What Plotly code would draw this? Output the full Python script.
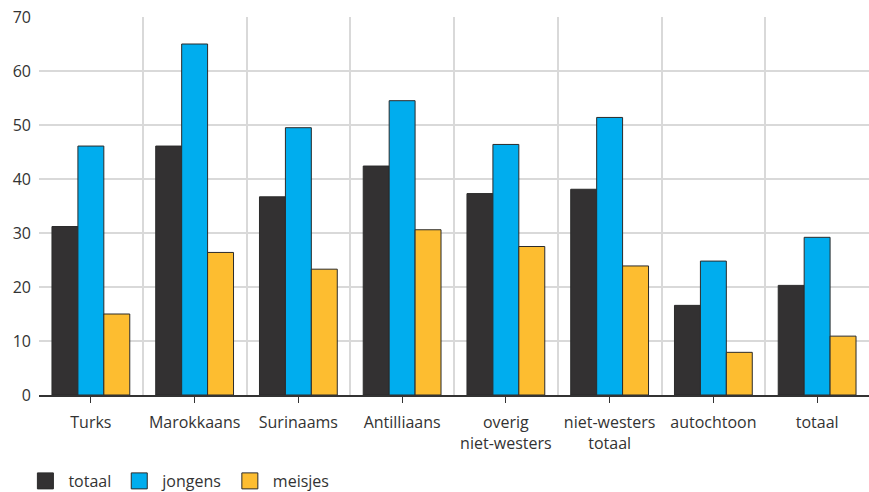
import plotly.graph_objects as go

categories = ["Turks", "Marokkaans", "Surinaams", "Antilliaans",
              "overig<br>niet-westers", "niet-westers<br>totaal", "autochtoon", "totaal"]
totaal = [31.2, 46.1, 36.7, 42.4, 37.3, 38.1, 16.6, 20.3]
jongens = [46.1, 65.0, 49.5, 54.5, 46.4, 51.4, 24.8, 29.2]
meisjes = [15.0, 26.4, 23.3, 30.6, 27.5, 23.9, 7.9, 10.9]
y_ticks = [0, 10, 20, 30, 40, 50, 60, 70]

x = list(range(len(categories)))
FONT = "Open Sans"
TXT = "#333333"
series = [("totaal", totaal, "#333132"), ("jongens", jongens, "#00ADEE"), ("meisjes", meisjes, "#FDBD30")]

fig = go.Figure()
for name, vals, col in series:
    fig.add_trace(go.Bar(x=x, y=vals, name=name, legendgroup=name, showlegend=False,
                         marker=dict(color=col, line=dict(color="#2b2b2b", width=1))))
for name, vals, col in series:
    fig.add_trace(go.Scatter(x=[None], y=[None], mode="markers", name=name, legendgroup=name,
                             marker=dict(symbol="square", size=16, color=col,
                                         line=dict(color="#2b2b2b", width=1))))

fig.update_layout(
    width=869, height=500,
    margin=dict(l=39, r=0, t=17, b=105, autoexpand=False),
    plot_bgcolor="white", paper_bgcolor="white",
    barmode="group", bargap=0.25, bargroupgap=0,
    font=dict(family=FONT, size=16, color=TXT),
    showlegend=True,
    legend=dict(orientation="h", x=-0.02, xanchor="left", y=-0.1825, yanchor="top",
                font=dict(family=FONT, size=16, color=TXT), itemwidth=36, traceorder="normal"),
)
fig.update_xaxes(
    range=[-0.5, len(categories) - 0.5],
    tickmode="array", tickvals=x, ticktext=categories,
    showgrid=False, ticks="outside", ticklen=6, tickcolor="#333333", tickwidth=1,
    showline=True, linecolor="#333333", linewidth=1.5,
    minor=dict(tickmode="array", tickvals=[i - 0.5 for i in range(len(categories) + 1)],
               showgrid=True, gridcolor="#d9d9d9", gridwidth=1.5, ticks=""),
    zeroline=False, fixedrange=True, ticklabelstandoff=6, automargin=False,
)
fig.update_yaxes(
    range=[0, 70], tickmode="array", tickvals=y_ticks,
    showgrid=True, gridcolor="#d9d9d9", gridwidth=1.5,
    zeroline=False, showline=False, ticks="", ticklabelstandoff=7, automargin=False,
    ticklabeloverflow="allow", fixedrange=True,
)
fig.write_html("out.html", config={"displayModeBar": False},
               post_script="document.body.style.margin='0';document.body.style.overflow='hidden';")
